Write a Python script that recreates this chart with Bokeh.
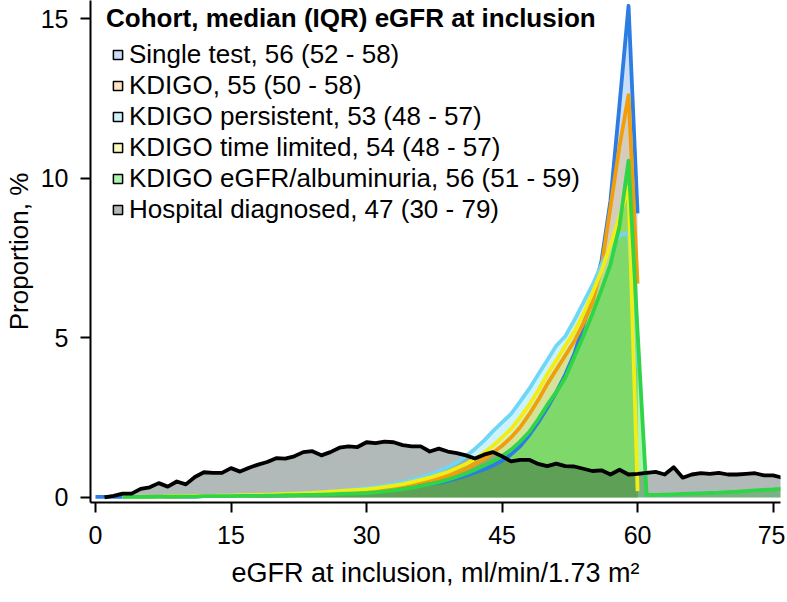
from bokeh.plotting import figure
from bokeh.models import ColumnDataSource, FixedTicker, Legend, LegendItem, Range1d
from bokeh.embed import file_html
from bokeh.resources import INLINE

# eGFR bins (ml/min/1.73 m2)
egfr_single = list(range(0, 61))
egfr_kdigo = list(range(3, 61))
egfr_albu = list(range(3, 77))
egfr_hosp = list(range(1, 77))

# proportion of each cohort, %
single_test = [
    0.02, 0.02, 0.02, 0.02, 0.02, 0.02, 0.03, 0.03, 0.03, 0.03,
    0.03, 0.03, 0.04, 0.04, 0.04, 0.05, 0.05, 0.05, 0.06, 0.06,
    0.07, 0.07, 0.08, 0.09, 0.10, 0.11, 0.12, 0.14, 0.16, 0.18,
    0.20, 0.22, 0.25, 0.28, 0.31, 0.34, 0.38, 0.42, 0.46, 0.52,
    0.60, 0.68, 0.78, 0.88, 1.00, 1.15, 1.35, 1.60, 1.95, 2.35,
    2.80, 3.30, 3.85, 4.50, 5.40, 6.30, 7.40, 9.30, 12.30, 15.40,
    8.90]
kdigo = [
    0.02, 0.02, 0.02, 0.03, 0.03, 0.03, 0.03,
    0.04, 0.04, 0.04, 0.05, 0.05, 0.05, 0.06, 0.06, 0.07, 0.07,
    0.08, 0.09, 0.10, 0.11, 0.12, 0.14, 0.15, 0.17, 0.19, 0.20,
    0.22, 0.25, 0.28, 0.32, 0.37, 0.42, 0.48, 0.54, 0.60, 0.68,
    0.78, 0.90, 1.05, 1.20, 1.40, 1.62, 1.88, 2.20, 2.60, 3.05,
    3.55, 4.00, 4.45, 4.90, 5.45, 6.10, 7.20, 9.10, 11.00, 12.60,
    6.70]
kdigo_persistent = [
    0.02, 0.02, 0.03, 0.03, 0.03, 0.04, 0.04,
    0.04, 0.05, 0.05, 0.05, 0.06, 0.06, 0.07, 0.07, 0.08, 0.09,
    0.10, 0.11, 0.12, 0.13, 0.15, 0.17, 0.19, 0.21, 0.24, 0.27,
    0.30, 0.34, 0.38, 0.43, 0.49, 0.55, 0.63, 0.72, 0.83, 0.95,
    1.10, 1.30, 1.52, 1.78, 2.08, 2.35, 2.62, 3.00, 3.40, 3.85,
    4.30, 4.75, 5.05, 5.55, 6.10, 6.65, 7.30, 7.80, 8.20, 8.30,
    4.10]
kdigo_time_limited = [
    0.02, 0.02, 0.03, 0.03, 0.03, 0.04, 0.04,
    0.04, 0.05, 0.05, 0.05, 0.06, 0.06, 0.07, 0.07, 0.08, 0.09,
    0.10, 0.11, 0.12, 0.13, 0.14, 0.16, 0.18, 0.20, 0.22, 0.24,
    0.26, 0.29, 0.33, 0.37, 0.42, 0.48, 0.55, 0.62, 0.71, 0.80,
    0.92, 1.05, 1.20, 1.40, 1.62, 1.88, 2.15, 2.50, 2.90, 3.35,
    3.85, 4.30, 4.75, 5.20, 5.75, 6.40, 7.10, 7.90, 8.80, 9.70,
    0.20]
kdigo_albuminuria = [
    0.02, 0.02, 0.02, 0.02, 0.03, 0.03, 0.03,
    0.03, 0.03, 0.04, 0.04, 0.04, 0.04, 0.05, 0.05, 0.05, 0.06,
    0.06, 0.07, 0.07, 0.08, 0.08, 0.09, 0.10, 0.11, 0.12, 0.13,
    0.14, 0.16, 0.19, 0.22, 0.26, 0.30, 0.36, 0.42, 0.48, 0.56,
    0.65, 0.75, 0.87, 1.00, 1.14, 1.30, 1.50, 1.75, 2.05, 2.45,
    2.90, 3.30, 3.75, 4.40, 5.05, 5.75, 6.50, 7.30, 8.50, 10.55,
    5.20, 0.08, 0.08, 0.09, 0.10, 0.11, 0.12, 0.13, 0.14, 0.15,
    0.17, 0.18, 0.20, 0.22, 0.24, 0.25, 0.27]
hospital = [
    0.00, 0.05, 0.12, 0.12, 0.27, 0.32, 0.45, 0.34, 0.50,
    0.41, 0.64, 0.79, 0.77, 0.77, 0.92, 0.81, 0.93, 1.03, 1.11,
    1.23, 1.22, 1.29, 1.42, 1.45, 1.32, 1.42, 1.56, 1.60, 1.58,
    1.73, 1.70, 1.75, 1.73, 1.64, 1.60, 1.60, 1.44, 1.53, 1.44,
    1.39, 1.32, 1.22, 1.34, 1.42, 1.29, 1.13, 1.18, 1.18, 1.05,
    0.98, 1.06, 0.98, 0.97, 0.90, 0.83, 0.85, 0.72, 0.87, 0.72,
    0.74, 0.77, 0.80, 0.72, 0.95, 0.62, 0.72, 0.76, 0.74, 0.77,
    0.72, 0.72, 0.74, 0.76, 0.69, 0.69, 0.62]

labels = [
    "Single test, 56 (52 - 58)",
    "KDIGO, 55 (50 - 58)",
    "KDIGO persistent, 53 (48 - 57)",
    "KDIGO time limited, 54 (48 - 57)",
    "KDIGO eGFR/albuminuria, 56 (51 - 59)",
    "Hospital diagnosed, 47 (30 - 79)",
]
colours = ["#2b7de3", "#f29d0a", "#6fd6f6", "#f2ee14", "#2fd447", "#000000"]
fill_colours = ["#2b7de3", "#f29d0a", "#33ccf5", "#f5f000", "#00e010", "#1e3232"]
fill_alphas = [0.25, 0.25, 0.25, 0.25, 0.33, 0.34]

series = [
    (egfr_single, single_test),
    (egfr_kdigo, kdigo),
    (egfr_kdigo, kdigo_persistent),
    (egfr_kdigo, kdigo_time_limited),
    (egfr_albu, kdigo_albuminuria),
    (egfr_hosp, hospital),
]

FONT = "Liberation Sans"

p = figure(width=785, height=600,
           x_range=Range1d(-0.553, 75.82), y_range=Range1d(-0.157, 15.565),
           x_axis_label="eGFR at inclusion, ml/min/1.73 m\u00b2",
           y_axis_label="Proportion, %",
           output_backend="svg", toolbar_location=None,
           min_border_left=90, min_border_right=5, min_border_top=0, min_border_bottom=98)
p.outline_line_color = None
p.grid.visible = False

# filled areas first, then the outlines on top
sources = []
for (xs, ys), fc, fa in zip(series, fill_colours, fill_alphas):
    src = ColumnDataSource(data=dict(x=xs, y=ys))
    sources.append(src)
    p.varea(x="x", y1=0, y2="y", source=src, fill_color=fc, fill_alpha=fa)

for src, colour in zip(sources, colours):
    p.line("x", "y", source=src, line_color=colour, line_width=3.8, line_join="round")

# legend swatches (a single NaN point, so nothing shows in the plot itself)
items = []
for label, fc, fa in zip(labels, fill_colours, fill_alphas):
    r = p.scatter(x=[float("nan")], y=[float("nan")], marker="square",
                  fill_color=fc, fill_alpha=fa, line_color="black", line_width=1.5)
    items.append(LegendItem(label=label, renderers=[r]))

legend = Legend(items=items, location=(16, 277), margin=0, padding=0,
                title="Cohort, median (IQR) eGFR at inclusion",
                title_text_font=FONT, title_text_font_size="26px", title_text_font_style="bold",
                title_text_color="black", title_standoff=5,
                label_text_font=FONT, label_text_font_size="26px", label_text_color="black",
                label_height=29, glyph_height=29, glyph_width=23, label_standoff=0, spacing=0,
                background_fill_alpha=0, border_line_color=None)
p.add_layout(legend)

for ax in (p.xaxis[0], p.yaxis[0]):
    ax.axis_line_width = 2
    ax.major_tick_line_width = 2
    ax.major_tick_out = 10
    ax.major_tick_in = 0
    ax.minor_tick_line_color = None
    ax.major_label_text_font = FONT
    ax.major_label_text_font_size = "25px"
    ax.major_label_text_color = "black"
    ax.axis_label_text_font = FONT
    ax.axis_label_text_font_style = "normal"
    ax.axis_label_text_color = "black"

p.xaxis.axis_label_text_font_size = "27px"
p.yaxis.axis_label_text_font_size = "26px"
p.xaxis.ticker = FixedTicker(ticks=[0, 15, 30, 45, 60, 75])
p.yaxis.ticker = FixedTicker(ticks=[0, 5, 10, 15])
p.xaxis.major_label_standoff = 13
p.yaxis.major_label_standoff = 12
p.xaxis.axis_label_standoff = 11
p.yaxis.axis_label_standoff = 4

open("out.html", "w").write(file_html(p, INLINE))
